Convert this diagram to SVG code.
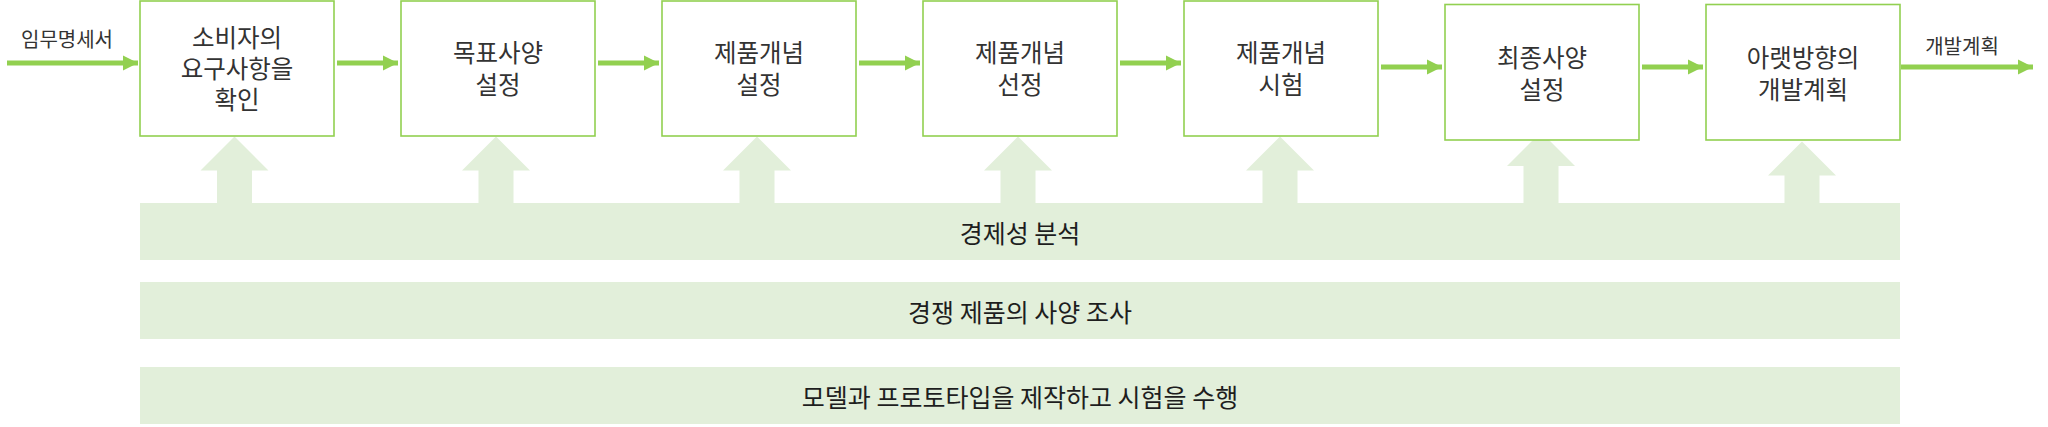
<svg xmlns="http://www.w3.org/2000/svg" width="2048" height="427" viewBox="0 0 2048 427">
<style>
.box{fill:#ffffff;stroke:#92d050;stroke-width:1.6}
.t{font-family:"Malgun Gothic","Noto Sans CJK KR","Noto Sans",sans-serif;fill:#333333;text-anchor:middle;dominant-baseline:central}
.bt{font-size:24.5px}
.lt{font-size:20px}
.nt{font-size:25px;fill:#1e1e1e}
.band{fill:#e2efda}
.up{fill:#e2efda}
.conn{stroke:#92d050;stroke-width:5;fill:none}
</style>
<defs>
<marker id="ah" markerUnits="userSpaceOnUse" markerWidth="16" markerHeight="16" viewBox="0 0 16 16" refX="15" refY="8" orient="auto">
<path d="M0,0.5 L15,8 L0,15.5 Z" fill="#92d050"/>
</marker>
</defs>
<g id="bands">
<g id="band1"><rect class="band" x="140" y="203" width="1760" height="57"/><text class="t nt" x="1020" y="232">경제성 분석</text></g>
<g id="band2"><rect class="band" x="140" y="282" width="1760" height="57"/><text class="t nt" x="1020" y="311">경쟁 제품의 사양 조사</text></g>
<g id="band3"><rect class="band" x="140" y="367" width="1760" height="57"/><text class="t nt" x="1020" y="396">모델과 프로토타입을 제작하고 시험을 수행</text></g>
</g>
<g id="uparrows">
<polygon class="up" points="234.5,136.5 268.5,170.5 252,170.5 252,203 217,203 217,170.5 200.5,170.5"/>
<polygon class="up" points="496,136.5 530,170.5 513.5,170.5 513.5,203 478.5,203 478.5,170.5 462,170.5"/>
<polygon class="up" points="757,136.5 791,170.5 774.5,170.5 774.5,203 739.5,203 739.5,170.5 723,170.5"/>
<polygon class="up" points="1018,136.5 1052,170.5 1035.5,170.5 1035.5,203 1000.5,203 1000.5,170.5 984,170.5"/>
<polygon class="up" points="1280,136.5 1314,170.5 1297.5,170.5 1297.5,203 1262.5,203 1262.5,170.5 1246,170.5"/>
<polygon class="up" points="1541,132 1575,166 1558.5,166 1558.5,203 1523.5,203 1523.5,166 1507,166"/>
<polygon class="up" points="1802,141.5 1836,175.5 1819.5,175.5 1819.5,203 1784.5,203 1784.5,175.5 1768,175.5"/>
</g>
<g id="connectors">
<line class="conn" x1="7" y1="63" x2="138" y2="63" marker-end="url(#ah)"/>
<line class="conn" x1="337" y1="63" x2="398" y2="63" marker-end="url(#ah)"/>
<line class="conn" x1="598" y1="63" x2="659" y2="63" marker-end="url(#ah)"/>
<line class="conn" x1="859" y1="63" x2="920" y2="63" marker-end="url(#ah)"/>
<line class="conn" x1="1120" y1="63" x2="1181" y2="63" marker-end="url(#ah)"/>
<line class="conn" x1="1381" y1="67" x2="1442" y2="67" marker-end="url(#ah)"/>
<line class="conn" x1="1642" y1="67" x2="1703" y2="67" marker-end="url(#ah)"/>
<line class="conn" x1="1901" y1="67" x2="2033" y2="67" marker-end="url(#ah)"/>
<text class="t lt" x="67" y="38">임무명세서</text>
<text class="t lt" x="1962" y="45">개발계획</text>
</g>
<g id="n1"><rect class="box" x="140" y="1" width="194" height="135"/><text class="t bt" x="237" y="36">소비자의</text><text class="t bt" x="237" y="67">요구사항을</text><text class="t bt" x="237" y="98">확인</text></g>
<g id="n2"><rect class="box" x="401" y="1" width="194" height="135"/><text class="t bt" x="498" y="51">목표사양</text><text class="t bt" x="498" y="83">설정</text></g>
<g id="n3"><rect class="box" x="662" y="1" width="194" height="135"/><text class="t bt" x="759" y="51">제품개념</text><text class="t bt" x="759" y="83">설정</text></g>
<g id="n4"><rect class="box" x="923" y="1" width="194" height="135"/><text class="t bt" x="1020" y="51">제품개념</text><text class="t bt" x="1020" y="83">선정</text></g>
<g id="n5"><rect class="box" x="1184" y="1" width="194" height="135"/><text class="t bt" x="1281" y="51">제품개념</text><text class="t bt" x="1281" y="83">시험</text></g>
<g id="n6"><rect class="box" x="1445" y="4.5" width="194" height="135.5"/><text class="t bt" x="1542" y="56">최종사양</text><text class="t bt" x="1542" y="88">설정</text></g>
<g id="n7"><rect class="box" x="1706" y="4.5" width="194" height="135.5"/><text class="t bt" x="1803" y="56">아랫방향의</text><text class="t bt" x="1803" y="88">개발계획</text></g>
</svg>
